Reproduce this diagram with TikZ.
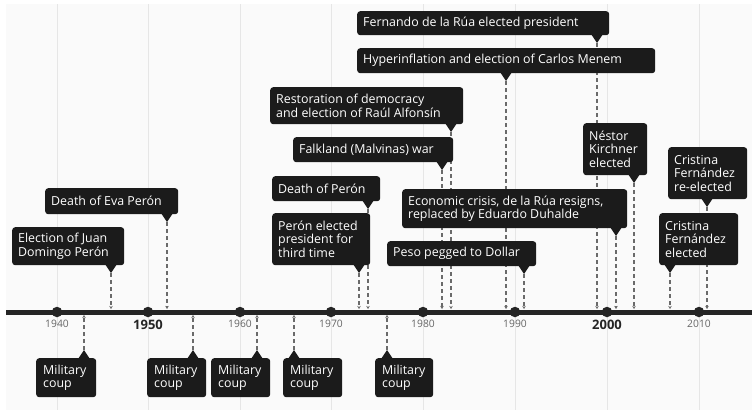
\documentclass[tikz,border=0pt]{standalone}
\usepackage{fontspec}
\setmainfont{Open Sans}
\usetikzlibrary{arrows.meta}
\definecolor{boxc}{HTML}{1B1B1B}
\definecolor{axisc}{HTML}{252525}
\definecolor{gridc}{HTML}{E6E6E6}
\definecolor{bgc}{HTML}{FAFAFA}
\definecolor{dashc}{HTML}{6A6A6A}
\definecolor{yearc}{HTML}{666666}
\pgfdeclarelayer{bg}\pgfdeclarelayer{lines}\pgfsetlayers{bg,lines,main}
\tikzset{
  evbox/.style={fill=boxc, rounded corners=3pt, inner sep=0pt, anchor=north west},
  evtext/.style={text=white, font=\fontsize{12.4}{13.6}\selectfont, align=left, inner sep=0pt, anchor=west},
  evline/.style={draw=dashc, line width=1.4pt, dash pattern=on 4pt off 3pt, -{Stealth[length=3pt,width=3.5pt]}},
  gridline/.style={draw=gridc, line width=1pt},
  axisline/.style={draw=axisc, line width=5pt},
  decdot/.style={circle, fill=axisc, minimum size=10.5pt, inner sep=0pt},
  yearlab/.style={text=yearc, font=\fontsize{10.3}{12}\selectfont, inner sep=0pt},
  yearbold/.style={text=axisc, font=\fontsize{13}{15}\selectfont\bfseries, inner sep=0pt}
}
\newcommand\evup[7]{%
  \node[evbox, minimum width={(#5-#3)*1pt}, minimum height={(#6-#4)*1pt}] (#1) at (#3,#4) {};
  \node[evtext] (#1t) at ([xshift=6pt]#1.west) {#7};
  \fill[boxc] (#2-6,#6-1) -- (#2+6,#6-1) -- (#2,#6+8) -- cycle;
  \coordinate (#1tip) at (#2,#6+8);
  \coordinate (#1ax) at (#2,309);
  \begin{pgfonlayer}{lines}\draw[evline] (#1tip) -- (#1ax);\end{pgfonlayer}
}
\newcommand\evdown[7]{%
  \node[evbox, minimum width={(#5-#3)*1pt}, minimum height={(#6-#4)*1pt}] (#1) at (#3,#4) {};
  \node[evtext] (#1t) at ([xshift=7pt]#1.west) {#7};
  \fill[boxc] (#2-6,#4+1) -- (#2+6,#4+1) -- (#2,#4-8) -- cycle;
  \coordinate (#1tip) at (#2,#4-8);
  \coordinate (#1ax) at (#2,315);
  \begin{pgfonlayer}{lines}\draw[evline] (#1tip) -- (#1ax);\end{pgfonlayer}
}
\begin{document}
\begin{tikzpicture}[x=1pt,y=-1pt]
\useasboundingbox (0,0) rectangle (752,410);
\begin{pgfonlayer}{bg}
  \fill[bgc] (6,4) rectangle (752,410);
  \foreach \gx in {57,148,240,331,423,515,607,699}
    \draw[gridline] (\gx,4) -- (\gx,410);
\end{pgfonlayer}
% axis
\coordinate (axL) at (6,312);
\coordinate (axR) at (752,312);
\draw[axisline] (axL) -- (axR);
\foreach \gx/\yr in {57/1940,148/1950,240/1960,331/1970,423/1980,515/1990,607/2000,699/2010}
  \node[decdot] (d\yr) at (\gx,312) {};
\node[yearlab] (y1940) at (57,324) {1940};
\node[yearbold] (y1950) at (148,325) {1950};
\node[yearlab] (y1960) at (240,324) {1960};
\node[yearlab] (y1970) at (331,324) {1970};
\node[yearlab] (y1980) at (423,324) {1980};
\node[yearlab] (y1990) at (515,324) {1990};
\node[yearbold] (y2000) at (607,325) {2000};
\node[yearlab] (y2010) at (699,324) {2010};
% events above
\evup{elec}{111}{12}{227}{124}{265}{Election of Juan\\Domingo Perón}
\evup{eva}{167}{45}{188}{178}{214}{Death of Eva Perón}
\evup{third}{359}{272}{213}{370}{265}{Perón elected\\president for\\third time}
\evup{death}{368}{272}{176}{380}{201}{Death of Perón}
\evup{falk}{442}{293}{137}{453}{162}{Falkland (Malvinas) war}
\evup{resto}{451}{270}{87}{463}{124}{Restoration of democracy\\and election of Raúl Alfonsín}
\evup{peso}{524}{387}{241}{536}{266}{Peso pegged to Dollar}
\evup{crisis}{616}{402}{189}{627}{228}{Economic crisis, de la Rúa resigns,\\replaced by Eduardo Duhalde}
\evup{menem}{506}{357}{48}{655}{73}{Hyperinflation and election of Carlos Menem}
\evup{rua}{597}{357}{11}{609}{35}{Fernando de la Rúa elected president}
\evup{nestor}{634}{583}{123}{647}{175}{Néstor\\Kirchner\\elected}
\evup{cfre}{707}{668}{147}{747}{199}{Cristina\\Fernández\\re-elected}
\evup{cfel}{670}{659}{213}{738}{265}{Cristina\\Fernández\\elected}
% events below
\evdown{coupa}{84}{36}{358}{96}{397}{Military\\coup}
\evdown{coupb}{193}{147}{358}{206}{397}{Military\\coup}
\evdown{coupc}{257}{211}{358}{270}{397}{Military\\coup}
\evdown{coupd}{294}{283}{358}{342}{397}{Military\\coup}
\evdown{coupe}{387}{375}{358}{433}{397}{Military\\coup}
\end{tikzpicture}
\end{document}
